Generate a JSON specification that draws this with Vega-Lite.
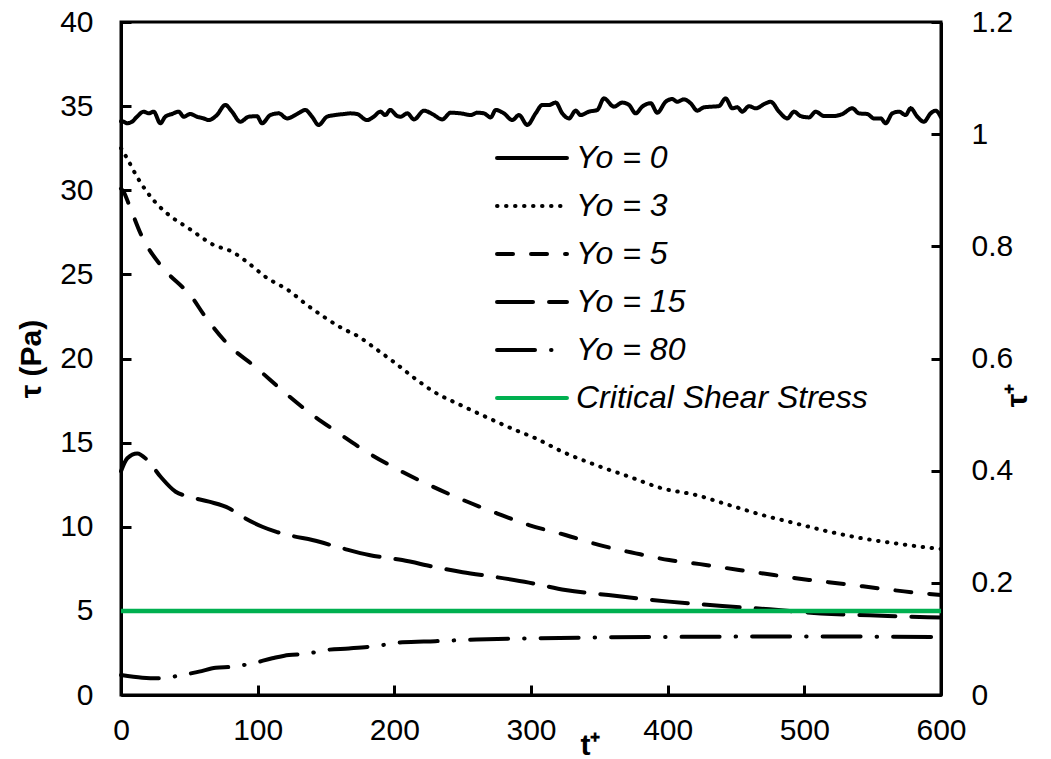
{
  "$schema": "https://vega.github.io/schema/vega-lite/v6.json",
  "width": 820,
  "height": 673,
  "autosize": {"type": "none"},
  "padding": {"left": 121, "top": 22, "right": 110, "bottom": 64},
  "background": "white",
  "config": {
    "view": {"stroke": "black", "strokeWidth": 3},
    "font": "Liberation Sans",
    "axis": {
      "domainColor": "black", "domainWidth": 3, "tickColor": "black", "tickWidth": 3, "labelFlush": false,
      "grid": false, "labelFont": "Liberation Sans", "labelFontSize": 30, "labelColor": "black",
      "titleFont": "Liberation Sans", "titleFontSize": 30, "titleFontWeight": "bold", "titleColor": "black"
    },
    "legend": {
      "orient": "none", "legendX": 395, "legendY": 120, "title": null,
      "labelFont": "Liberation Sans", "labelFontSize": 32, "labelFontStyle": "italic", "labelColor": "black",
      "symbolType": "M-4,0H4", "symbolSize": 306, "symbolStrokeWidth": 4, "rowPadding": 16, "labelOffset": 28,
      "labelLimit": 400
    }
  },
  "datasets": {
    "curves": [
      {"s":"Yo = 0","t":0,"v":34.1},{"s":"Yo = 0","t":2,"v":34.07},{"s":"Yo = 0","t":4.4,"v":33.98},{"s":"Yo = 0","t":8,"v":34.07},{"s":"Yo = 0","t":11.7,"v":34.37},{"s":"Yo = 0","t":16.6,"v":34.67},{"s":"Yo = 0","t":20.2,"v":34.57},{"s":"Yo = 0","t":23.9,"v":34.67},{"s":"Yo = 0","t":28.8,"v":33.98},{"s":"Yo = 0","t":32.4,"v":34.37},{"s":"Yo = 0","t":37.3,"v":34.53},{"s":"Yo = 0","t":42.2,"v":34.67},{"s":"Yo = 0","t":45.9,"v":34.37},{"s":"Yo = 0","t":50.7,"v":34.53},{"s":"Yo = 0","t":55.6,"v":34.37},{"s":"Yo = 0","t":60.5,"v":34.27},{"s":"Yo = 0","t":64.2,"v":34.17},{"s":"Yo = 0","t":70.2,"v":34.47},{"s":"Yo = 0","t":76.3,"v":35.07},{"s":"Yo = 0","t":81.2,"v":34.67},{"s":"Yo = 0","t":87.3,"v":34.07},{"s":"Yo = 0","t":93.4,"v":34.37},{"s":"Yo = 0","t":99.5,"v":34.4},{"s":"Yo = 0","t":103.2,"v":33.98},{"s":"Yo = 0","t":109.3,"v":34.47},{"s":"Yo = 0","t":115.4,"v":34.57},{"s":"Yo = 0","t":121.5,"v":34.27},{"s":"Yo = 0","t":128.8,"v":34.53},{"s":"Yo = 0","t":134.9,"v":34.77},{"s":"Yo = 0","t":139.8,"v":34.37},{"s":"Yo = 0","t":144.6,"v":33.88},{"s":"Yo = 0","t":150.7,"v":34.37},{"s":"Yo = 0","t":156.8,"v":34.47},{"s":"Yo = 0","t":163,"v":34.53},{"s":"Yo = 0","t":167.8,"v":34.57},{"s":"Yo = 0","t":172.7,"v":34.53},{"s":"Yo = 0","t":180,"v":34.17},{"s":"Yo = 0","t":184.9,"v":34.37},{"s":"Yo = 0","t":189.7,"v":34.67},{"s":"Yo = 0","t":193.4,"v":34.47},{"s":"Yo = 0","t":197,"v":34.77},{"s":"Yo = 0","t":202,"v":34.42},{"s":"Yo = 0","t":204.6,"v":34.37},{"s":"Yo = 0","t":209.5,"v":34.57},{"s":"Yo = 0","t":214.4,"v":34.21},{"s":"Yo = 0","t":221.7,"v":34.73},{"s":"Yo = 0","t":227.8,"v":34.53},{"s":"Yo = 0","t":235.1,"v":34.21},{"s":"Yo = 0","t":241.2,"v":34.61},{"s":"Yo = 0","t":248.5,"v":34.57},{"s":"Yo = 0","t":255.9,"v":34.47},{"s":"Yo = 0","t":260.7,"v":34.61},{"s":"Yo = 0","t":265.6,"v":34.57},{"s":"Yo = 0","t":270.5,"v":34.33},{"s":"Yo = 0","t":274.2,"v":34.77},{"s":"Yo = 0","t":280.2,"v":34.57},{"s":"Yo = 0","t":286.3,"v":34.17},{"s":"Yo = 0","t":291.2,"v":34.47},{"s":"Yo = 0","t":297.3,"v":33.88},{"s":"Yo = 0","t":303.4,"v":34.57},{"s":"Yo = 0","t":308.3,"v":35.07},{"s":"Yo = 0","t":313.2,"v":35.07},{"s":"Yo = 0","t":318.1,"v":35.21},{"s":"Yo = 0","t":322.9,"v":34.57},{"s":"Yo = 0","t":327.8,"v":34.27},{"s":"Yo = 0","t":332.7,"v":34.73},{"s":"Yo = 0","t":336.3,"v":34.47},{"s":"Yo = 0","t":342.4,"v":34.67},{"s":"Yo = 0","t":348.5,"v":34.77},{"s":"Yo = 0","t":353.4,"v":35.46},{"s":"Yo = 0","t":360.7,"v":34.97},{"s":"Yo = 0","t":366.8,"v":35.21},{"s":"Yo = 0","t":371.7,"v":35.07},{"s":"Yo = 0","t":376.6,"v":34.57},{"s":"Yo = 0","t":381.4,"v":34.97},{"s":"Yo = 0","t":387.6,"v":35.17},{"s":"Yo = 0","t":392.4,"v":34.61},{"s":"Yo = 0","t":398.5,"v":35.26},{"s":"Yo = 0","t":403.4,"v":35.42},{"s":"Yo = 0","t":407,"v":35.26},{"s":"Yo = 0","t":411.9,"v":35.4},{"s":"Yo = 0","t":416.8,"v":35.17},{"s":"Yo = 0","t":421.7,"v":34.73},{"s":"Yo = 0","t":426.6,"v":34.93},{"s":"Yo = 0","t":432.6,"v":34.97},{"s":"Yo = 0","t":437.5,"v":35.0},{"s":"Yo = 0","t":442.4,"v":35.46},{"s":"Yo = 0","t":447.3,"v":34.87},{"s":"Yo = 0","t":451,"v":34.93},{"s":"Yo = 0","t":454.6,"v":34.67},{"s":"Yo = 0","t":459.5,"v":35.0},{"s":"Yo = 0","t":464.4,"v":34.87},{"s":"Yo = 0","t":471.7,"v":35.17},{"s":"Yo = 0","t":475.4,"v":35.26},{"s":"Yo = 0","t":481.5,"v":34.67},{"s":"Yo = 0","t":487.6,"v":34.27},{"s":"Yo = 0","t":492.4,"v":34.67},{"s":"Yo = 0","t":497.3,"v":34.41},{"s":"Yo = 0","t":503.4,"v":34.33},{"s":"Yo = 0","t":508.3,"v":34.67},{"s":"Yo = 0","t":514.4,"v":34.41},{"s":"Yo = 0","t":521.7,"v":34.41},{"s":"Yo = 0","t":527.8,"v":34.53},{"s":"Yo = 0","t":535.1,"v":34.87},{"s":"Yo = 0","t":540,"v":34.57},{"s":"Yo = 0","t":546.1,"v":34.53},{"s":"Yo = 0","t":551,"v":34.27},{"s":"Yo = 0","t":555.9,"v":34.27},{"s":"Yo = 0","t":559.5,"v":33.98},{"s":"Yo = 0","t":564.4,"v":34.57},{"s":"Yo = 0","t":569.3,"v":34.67},{"s":"Yo = 0","t":574.1,"v":34.47},{"s":"Yo = 0","t":577.8,"v":34.87},{"s":"Yo = 0","t":582.7,"v":34.37},{"s":"Yo = 0","t":587.5,"v":34.07},{"s":"Yo = 0","t":592.4,"v":34.57},{"s":"Yo = 0","t":596.1,"v":34.73},{"s":"Yo = 0","t":600,"v":34.33},
      {"s":"Yo = 3","t":0,"v":32.5},{"s":"Yo = 3","t":4.4,"v":31.9},{"s":"Yo = 3","t":11.7,"v":30.8},{"s":"Yo = 3","t":25,"v":29.3},{"s":"Yo = 3","t":36,"v":28.47},{"s":"Yo = 3","t":49.5,"v":27.74},{"s":"Yo = 3","t":67.8,"v":26.75},{"s":"Yo = 3","t":81.2,"v":26.35},{"s":"Yo = 3","t":93.4,"v":25.66},{"s":"Yo = 3","t":105.6,"v":24.86},{"s":"Yo = 3","t":123.9,"v":23.97},{"s":"Yo = 3","t":136.1,"v":23.18},{"s":"Yo = 3","t":148.3,"v":22.48},{"s":"Yo = 3","t":161.7,"v":21.8},{"s":"Yo = 3","t":173.9,"v":21.3},{"s":"Yo = 3","t":186,"v":20.6},{"s":"Yo = 3","t":199.5,"v":19.8},{"s":"Yo = 3","t":216.6,"v":18.72},{"s":"Yo = 3","t":228.8,"v":18.03},{"s":"Yo = 3","t":248.3,"v":17.24},{"s":"Yo = 3","t":267.8,"v":16.5},{"s":"Yo = 3","t":290,"v":15.7},{"s":"Yo = 3","t":302.2,"v":15.3},{"s":"Yo = 3","t":323,"v":14.46},{"s":"Yo = 3","t":347.3,"v":13.67},{"s":"Yo = 3","t":371.7,"v":12.98},{"s":"Yo = 3","t":396,"v":12.28},{"s":"Yo = 3","t":420.5,"v":11.89},{"s":"Yo = 3","t":444.9,"v":11.29},{"s":"Yo = 3","t":469.2,"v":10.7},{"s":"Yo = 3","t":493.6,"v":10.2},{"s":"Yo = 3","t":518,"v":9.71},{"s":"Yo = 3","t":542.4,"v":9.31},{"s":"Yo = 3","t":566.8,"v":9.01},{"s":"Yo = 3","t":594.9,"v":8.72},{"s":"Yo = 3","t":600,"v":8.68},
      {"s":"Yo = 5","t":0,"v":30.1},{"s":"Yo = 5","t":2,"v":29.9},{"s":"Yo = 5","t":5.6,"v":29.2},{"s":"Yo = 5","t":15.4,"v":27.24},{"s":"Yo = 5","t":28.8,"v":25.56},{"s":"Yo = 5","t":45.9,"v":24.17},{"s":"Yo = 5","t":49.5,"v":23.88},{"s":"Yo = 5","t":61.7,"v":22.48},{"s":"Yo = 5","t":77.6,"v":20.9},{"s":"Yo = 5","t":99.5,"v":19.42},{"s":"Yo = 5","t":119,"v":18.03},{"s":"Yo = 5","t":138.5,"v":16.74},{"s":"Yo = 5","t":159.5,"v":15.55},{"s":"Yo = 5","t":181.5,"v":14.36},{"s":"Yo = 5","t":203.4,"v":13.37},{"s":"Yo = 5","t":225,"v":12.5},{"s":"Yo = 5","t":250,"v":11.6},{"s":"Yo = 5","t":275,"v":10.8},{"s":"Yo = 5","t":298.5,"v":10.1},{"s":"Yo = 5","t":325.2,"v":9.51},{"s":"Yo = 5","t":349.6,"v":8.92},{"s":"Yo = 5","t":376.6,"v":8.42},{"s":"Yo = 5","t":401,"v":8.02},{"s":"Yo = 5","t":427.8,"v":7.73},{"s":"Yo = 5","t":452.2,"v":7.43},{"s":"Yo = 5","t":477.8,"v":7.13},{"s":"Yo = 5","t":503.4,"v":6.84},{"s":"Yo = 5","t":529,"v":6.6},{"s":"Yo = 5","t":554.6,"v":6.34},{"s":"Yo = 5","t":581.5,"v":6.08},{"s":"Yo = 5","t":600,"v":5.95},
      {"s":"Yo = 15","t":0,"v":13.3},{"s":"Yo = 15","t":4.6,"v":14.07},{"s":"Yo = 15","t":11.9,"v":14.36},{"s":"Yo = 15","t":19.2,"v":13.97},{"s":"Yo = 15","t":29,"v":12.97},{"s":"Yo = 15","t":40,"v":12.08},{"s":"Yo = 15","t":49.8,"v":11.79},{"s":"Yo = 15","t":64.4,"v":11.49},{"s":"Yo = 15","t":79,"v":11.1},{"s":"Yo = 15","t":88.8,"v":10.6},{"s":"Yo = 15","t":103.4,"v":10.0},{"s":"Yo = 15","t":113.2,"v":9.71},{"s":"Yo = 15","t":125.4,"v":9.45},{"s":"Yo = 15","t":140,"v":9.21},{"s":"Yo = 15","t":161.9,"v":8.72},{"s":"Yo = 15","t":181.5,"v":8.32},{"s":"Yo = 15","t":205.8,"v":8.02},{"s":"Yo = 15","t":230,"v":7.6},{"s":"Yo = 15","t":250,"v":7.3},{"s":"Yo = 15","t":275,"v":7.0},{"s":"Yo = 15","t":298.5,"v":6.68},{"s":"Yo = 15","t":325.2,"v":6.24},{"s":"Yo = 15","t":356.7,"v":5.94},{"s":"Yo = 15","t":401,"v":5.55},{"s":"Yo = 15","t":440,"v":5.29},{"s":"Yo = 15","t":474.6,"v":5.09},{"s":"Yo = 15","t":512,"v":4.85},{"s":"Yo = 15","t":561,"v":4.7},{"s":"Yo = 15","t":600,"v":4.6},
      {"s":"Yo = 80","t":0,"v":1.19},{"s":"Yo = 80","t":15.6,"v":1.03},{"s":"Yo = 80","t":26.6,"v":0.99},{"s":"Yo = 80","t":41.2,"v":1.13},{"s":"Yo = 80","t":57.1,"v":1.39},{"s":"Yo = 80","t":69.3,"v":1.62},{"s":"Yo = 80","t":81.4,"v":1.68},{"s":"Yo = 80","t":96.1,"v":1.88},{"s":"Yo = 80","t":110.7,"v":2.18},{"s":"Yo = 80","t":122.9,"v":2.38},{"s":"Yo = 80","t":135.1,"v":2.44},{"s":"Yo = 80","t":149.8,"v":2.67},{"s":"Yo = 80","t":166.8,"v":2.77},{"s":"Yo = 80","t":186.4,"v":2.91},{"s":"Yo = 80","t":205.8,"v":3.13},{"s":"Yo = 80","t":230,"v":3.2},{"s":"Yo = 80","t":260,"v":3.3},{"s":"Yo = 80","t":300,"v":3.37},{"s":"Yo = 80","t":350,"v":3.42},{"s":"Yo = 80","t":400,"v":3.45},{"s":"Yo = 80","t":450,"v":3.47},{"s":"Yo = 80","t":500,"v":3.48},{"s":"Yo = 80","t":550,"v":3.47},{"s":"Yo = 80","t":600,"v":3.45}
    ],
    "critical": [
      {"s":"Critical Shear Stress","t":0,"v":5},{"s":"Critical Shear Stress","t":600,"v":5}
    ],
    "rightaxis": [
      {"t":0,"tp":0},{"t":600,"tp":1.2}
    ]
  },
  "layer": [
    {
      "layer": [
        {
          "data": {"name": "curves"},
          "mark": {"type": "line", "strokeWidth": 4, "strokeCap": "round", "interpolate": "monotone"},
          "encoding": {
            "x": {"field": "t", "type": "quantitative", "scale": {"domain": [0, 600], "nice": false},
              "axis": {"values": [0,100,200,300,400,500,600], "tickSize": -10, "labelPadding": 30, "title": "t⁺", "titleX": 469, "titleY": 35, "titleBaseline": "top"}},
            "y": {"field": "v", "type": "quantitative", "scale": {"domain": [0, 40], "nice": false},
              "axis": {"values": [0,5,10,15,20,25,30,35,40], "tickSize": -10, "labelPadding": 38, "title": "τ (Pa)", "titlePadding": 13}},
            "color": {"field": "s", "type": "nominal",
              "scale": {"domain": ["Yo = 0","Yo = 3","Yo = 5","Yo = 15","Yo = 80","Critical Shear Stress"], "range": ["black","black","black","black","black","#00B050"]},
              "legend": {"encode": {"symbols": {"update": {"strokeCap": {"value": "round"}}}}}},
            "strokeDash": {"field": "s", "type": "nominal",
              "scale": {"domain": ["Yo = 0","Yo = 3","Yo = 5","Yo = 15","Yo = 80","Critical Shear Stress"], "range": [[1,0],[0.5,8.5],[16,18],[36,16],[38,16,0.5,16],[1,0]]},
              "legend": {"encode": {"symbols": {"update": {"strokeCap": {"value": "round"}}}}}}
          }
        },
        {
          "data": {"name": "critical"},
          "mark": {"type": "line", "strokeWidth": 4.5},
          "encoding": {
            "x": {"field": "t", "type": "quantitative"},
            "y": {"field": "v", "type": "quantitative"},
            "color": {"field": "s", "type": "nominal"},
            "strokeDash": {"field": "s", "type": "nominal"}
          }
        }
      ]
    },
    {
      "data": {"name": "rightaxis"},
      "mark": {"type": "point", "opacity": 0},
      "encoding": {
        "x": {"field": "t", "type": "quantitative"},
        "y": {"field": "tp", "type": "quantitative", "scale": {"domain": [0, 1.2], "nice": false},
          "axis": {"orient": "right", "values": [0,0.2,0.4,0.6,0.8,1,1.2], "format": ".1~f", "tickSize": -10, "labelPadding": 40, "title": "τ⁺", "titleAngle": 270, "titlePadding": 20, "titleY": 373}}
      }
    }
  ],
  "resolve": {"scale": {"y": "independent"}}
}
